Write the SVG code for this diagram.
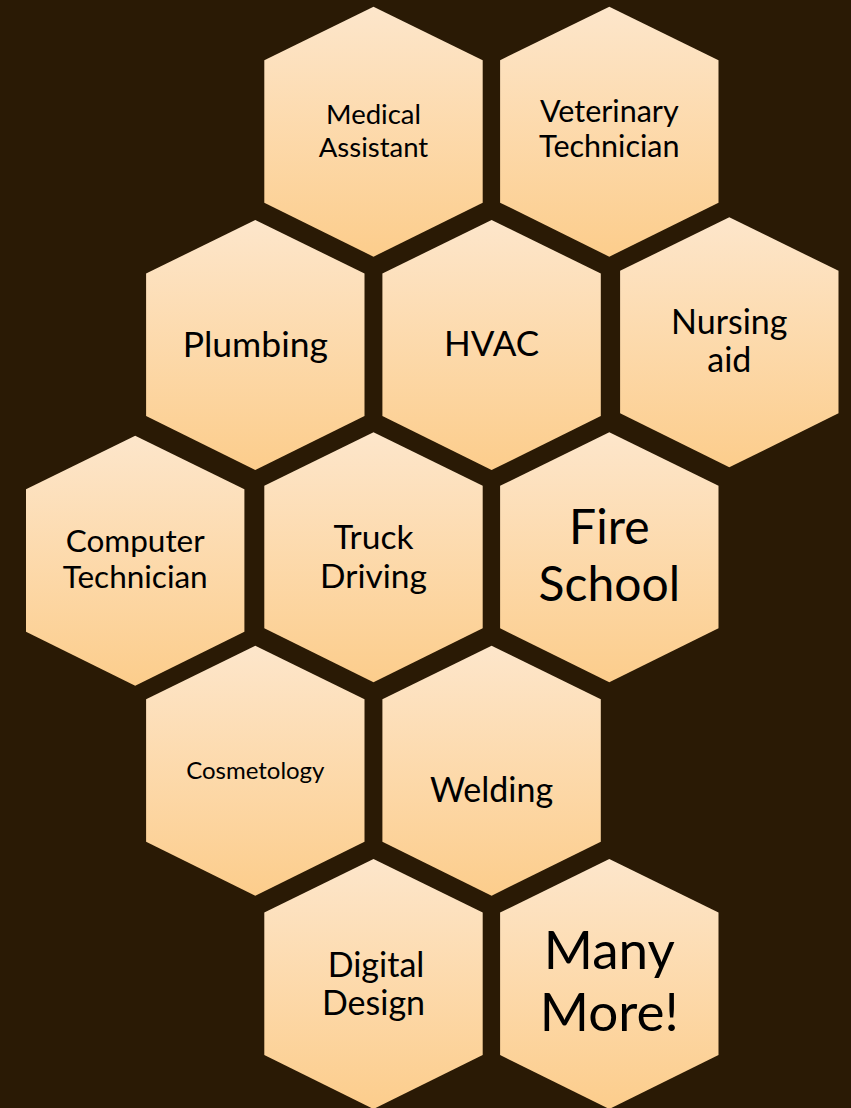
<svg xmlns="http://www.w3.org/2000/svg" width="851" height="1108" viewBox="0 0 851 1108">
  <defs>
    <linearGradient id="hexFill" x1="0" y1="0" x2="0" y2="1">
      <stop offset="0" stop-color="#fde6cb"/>
      <stop offset="1" stop-color="#fccd8c"/>
    </linearGradient>
    <polygon id="hex" points="0,0 109.2,53.5 109.2,196 0,250 -109.2,196 -109.2,53.5"/>
  </defs>
  <style>
    .hex { fill: url(#hexFill); }
    .lbl { font-family: Lato, "Open Sans", "Liberation Sans", sans-serif; fill: #000000; text-anchor: middle; }
  </style>
  <rect x="0" y="0" width="851" height="1108" fill="#2a1a05"/>

  <g id="connectors"></g>

  <g id="node-medical-assistant">
    <use href="#hex" class="hex" x="373.5" y="6.7"/>
    <text class="lbl" font-size="27.5" x="373.5" y="124">Medical</text>
    <text class="lbl" font-size="27.5" x="373.5" y="157">Assistant</text>
  </g>

  <g id="node-veterinary-technician">
    <use href="#hex" class="hex" x="609.3" y="6.7"/>
    <text class="lbl" font-size="30.5" x="609.3" y="122">Veterinary</text>
    <text class="lbl" font-size="30.5" x="609.3" y="157">Technician</text>
  </g>

  <g id="node-plumbing">
    <use href="#hex" class="hex" x="255.3" y="220"/>
    <text class="lbl" font-size="35.5" x="255.3" y="357">Plumbing</text>
  </g>

  <g id="node-hvac">
    <use href="#hex" class="hex" x="491.6" y="220"/>
    <text class="lbl" font-size="35" x="491.6" y="356">HVAC</text>
  </g>

  <g id="node-nursing-aid">
    <use href="#hex" class="hex" x="729.3" y="217.3"/>
    <text class="lbl" font-size="34" x="729.3" y="334">Nursing</text>
    <text class="lbl" font-size="34" x="729.3" y="372">aid</text>
  </g>

  <g id="node-computer-technician">
    <use href="#hex" class="hex" x="135.2" y="435.7"/>
    <text class="lbl" font-size="31.5" x="135.2" y="552">Computer</text>
    <text class="lbl" font-size="31.5" x="135.2" y="588">Technician</text>
  </g>

  <g id="node-truck-driving">
    <use href="#hex" class="hex" x="373.5" y="432.3"/>
    <text class="lbl" font-size="33.5" x="373.5" y="549">Truck</text>
    <text class="lbl" font-size="33.5" x="373.5" y="588">Driving</text>
  </g>

  <g id="node-fire-school">
    <use href="#hex" class="hex" x="609.3" y="432.3"/>
    <text class="lbl" font-size="48" x="609.3" y="544">Fire</text>
    <text class="lbl" font-size="48" x="609.3" y="601">School</text>
  </g>

  <g id="node-cosmetology">
    <use href="#hex" class="hex" x="255.3" y="645.7"/>
    <text class="lbl" font-size="24" x="255.3" y="779">Cosmetology</text>
  </g>

  <g id="node-welding">
    <use href="#hex" class="hex" x="491.6" y="645.7"/>
    <text class="lbl" font-size="34" x="491.6" y="802">Welding</text>
  </g>

  <g id="node-digital-design">
    <use href="#hex" class="hex" x="373.5" y="859"/>
    <text class="lbl" font-size="34" x="376" y="977">Digital</text>
    <text class="lbl" font-size="34" x="373.5" y="1015">Design</text>
  </g>

  <g id="node-many-more">
    <use href="#hex" class="hex" x="609.3" y="859"/>
    <text class="lbl" font-size="53" x="609.3" y="969">Many</text>
    <text class="lbl" font-size="53" x="609.3" y="1031">More!</text>
  </g>
</svg>
